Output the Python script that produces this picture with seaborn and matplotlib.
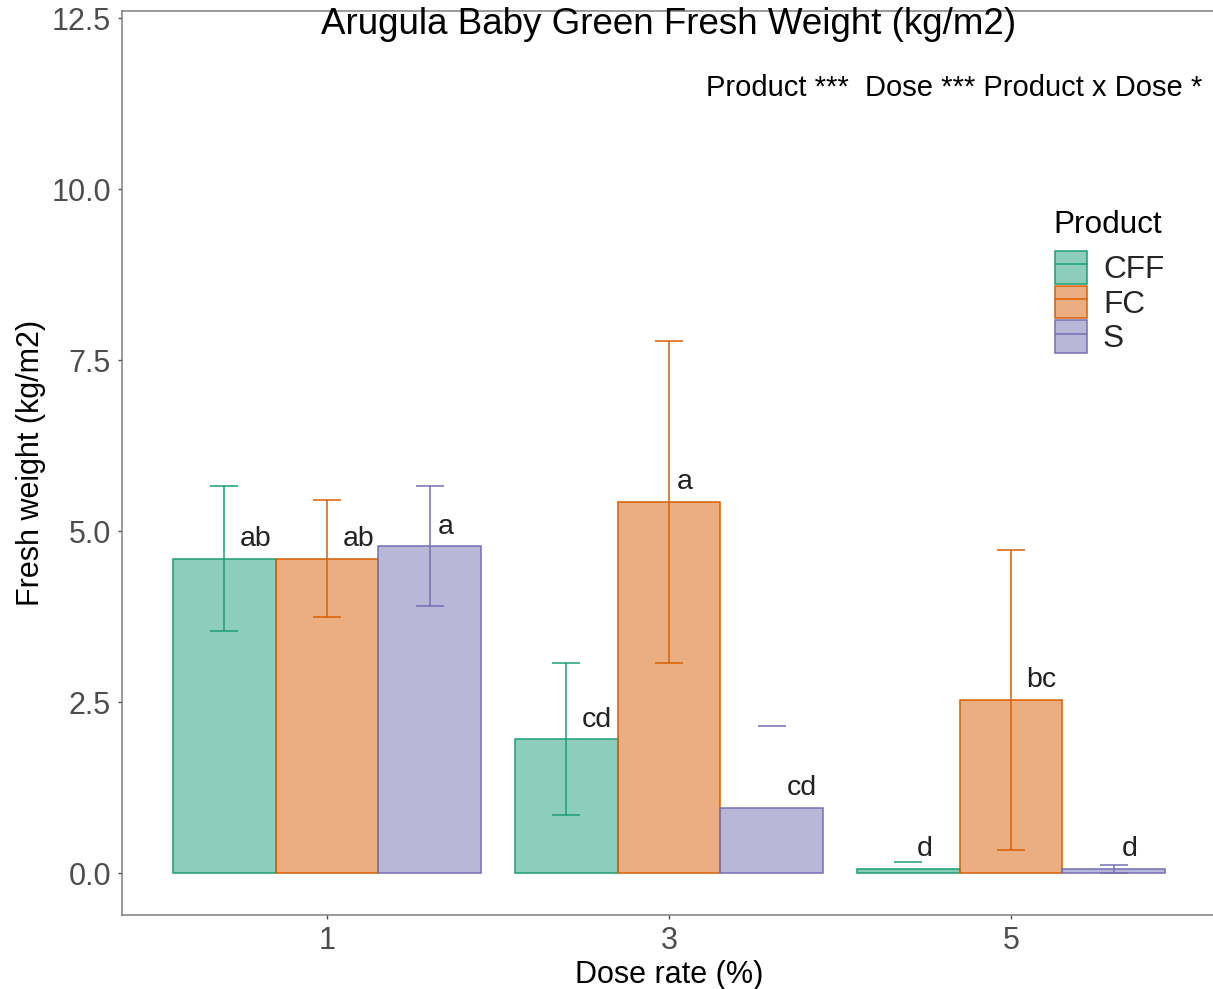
import numpy as np
import pandas as pd
import matplotlib
matplotlib.use("Agg")
import matplotlib.pyplot as plt
from matplotlib.patches import Patch
from matplotlib.lines import Line2D
from matplotlib.colors import to_rgba
import seaborn as sns

# ---- data -------------------------------------------------------------
doses = ["1", "3", "5"]
products = ["CFF", "FC", "S"]

cff_mean = [4.60, 1.96, 0.07]
cff_se = [1.055, 1.11, 0.09]
fc_mean = [4.60, 5.43, 2.535]
fc_se = [0.855, 2.35, 2.195]
s_mean = [4.78, 0.96, 0.065]
s_se = [0.875, 1.20, 0.062]

cff_letters = ["ab", "cd", "d"]
fc_letters = ["ab", "a", "bc"]
s_letters = ["a", "cd", "d"]

colors = ["#1B9E77", "#D95F02", "#7570B3"]

title = "Arugula Baby Green Fresh Weight (kg/m2)"
anova_note = "Product ***  Dose *** Product x Dose *"

means = {"CFF": cff_mean, "FC": fc_mean, "S": s_mean}
ses = {"CFF": cff_se, "FC": fc_se, "S": s_se}
letters = {"CFF": cff_letters, "FC": fc_letters, "S": s_letters}

df = pd.DataFrame(
    [(d, p, means[p][i], ses[p][i], letters[p][i])
     for p in products for i, d in enumerate(doses)],
    columns=["Dose", "Product", "Weight", "SE", "Letter"],
)

# ---- figure -----------------------------------------------------------
sns.set_theme(style="white")
plt.rcParams["font.family"] = ["Liberation Sans", "DejaVu Sans"]

W, H = 1213, 989
fig = plt.figure(figsize=(W / 100, H / 100), dpi=100)
ax = fig.add_axes([122 / W, (H - 915) / H, (1217 - 122) / W, (915 - 11) / H])

sns.barplot(
    data=df, x="Dose", y="Weight", hue="Product",
    order=doses, hue_order=products, palette=colors,
    width=0.9, saturation=1, errorbar=None, legend=False,
    linewidth=1.1, ax=ax,
)

ylo, yhi = -0.609, 12.603
ax.set_ylim(ylo, yhi)
ax.set_xlim(-0.599, 2.602)

LETTER_SIZE = 20.5
cap_half = 0.041
for cont, p, col in zip(ax.containers, products, colors):
    sub = df[df["Product"] == p].set_index("Dose").loc[doses]
    for bar, (dose, row) in zip(cont.patches, sub.iterrows()):
        bar.set_facecolor(to_rgba(col, 0.5))
        bar.set_edgecolor(col)
        xc = bar.get_x() + bar.get_width() / 2
        top = row["Weight"] + row["SE"]
        low = row["Weight"] - row["SE"]
        # values outside the 0 floor are dropped, leaving only the upper cap
        if low < 0:
            low = np.nan
        xs = [xc - cap_half, xc + cap_half, np.nan, xc, xc, np.nan,
              xc - cap_half, xc + cap_half]
        ys = [top, top, np.nan, top, low, np.nan, low, low]
        ax.plot(xs, ys, color=col, lw=1.1, solid_capstyle="butt", zorder=3)
        # significance letter: hjust = -0.5 relative to the bar centre
        t = ax.annotate(row["Letter"], xy=(xc, row["Weight"]),
                        xytext=(0, 12.5), textcoords="offset pixels",
                        ha="left", va="baseline", fontsize=LETTER_SIZE,
                        color="#222222", zorder=4)
        t._letter = True

fig.canvas.draw()
renderer = fig.canvas.get_renderer()
for t in ax.texts:
    if getattr(t, "_letter", False):
        w = t.get_window_extent(renderer).width
        t.xyann = (w / 2, 12.5)

# ---- axes styling -----------------------------------------------------
spine_col = "#7F7F7F"
for side in ["left", "bottom", "top", "right"]:
    ax.spines[side].set_visible(True)
    ax.spines[side].set_color(spine_col)
    ax.spines[side].set_linewidth(1.1)

ax.set_yticks([0, 2.5, 5.0, 7.5, 10.0, 12.5])
ax.set_yticklabels(["0.0", "2.5", "5.0", "7.5", "10.0", "12.5"])
ax.tick_params(axis="both", which="major", length=3, width=1.0,
               color="#4D4D4D", labelcolor="#4D4D4D", labelsize=22,
               left=True, bottom=True, pad=5.0)
ax.grid(False)

ax.set_xlabel("Dose rate (%)", fontsize=22, color="black")
ax.set_ylabel("Fresh weight (kg/m2)", fontsize=22, color="black")
ax.xaxis.set_label_coords(0.5, -(960 - 915) / (915 - 11))
ax.yaxis.set_label_coords((46 - 122) / (1217 - 122), 0.5)

ax.text(1.0, (873.3 - 25) / 68.42, title, ha="center", va="center",
        fontsize=26.5, color="black")
ax.text((954 - 327) / 342, (873.3 - 88) / 68.42, anova_note,
        ha="center", va="center", fontsize=21, color="black")

# ---- legend -----------------------------------------------------------
fig.text(1053 / W, (H - 225) / H, "Product", ha="left", va="center",
         fontsize=22.7, color="black")
handles = [
    (Patch(facecolor=to_rgba(c, 0.5), edgecolor=c, linewidth=1.1),
     Line2D([0], [0], color=c, lw=1.1))
    for c in colors
]
leg = ax.legend(
    handles, products, loc="upper left",
    bbox_to_anchor=(1055 / W, (H - 251) / H), bbox_transform=fig.transFigure,
    frameon=False, fontsize=22.7,
    handlelength=1.02, handleheight=1.22, labelspacing=0.02,
    handletextpad=0.5, borderpad=0.0, borderaxespad=0.0,
)

fig.savefig("out.png", dpi=100)
